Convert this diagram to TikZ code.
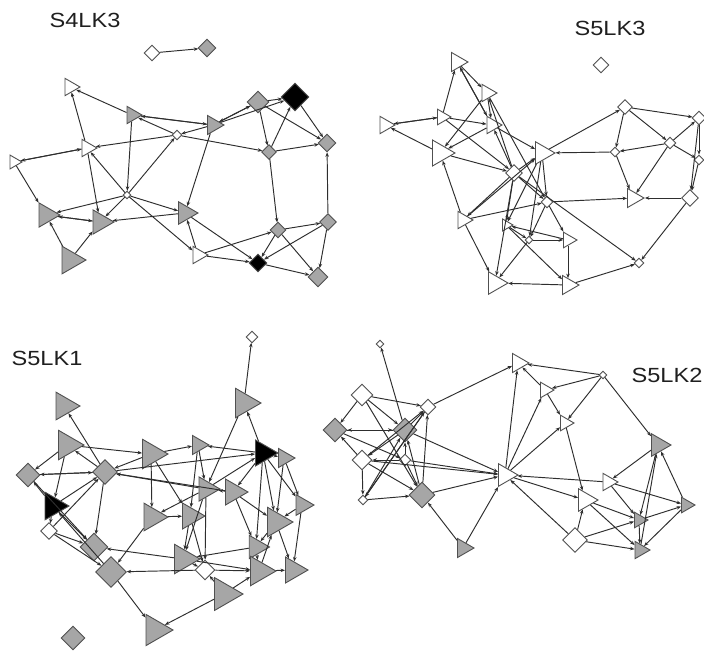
\documentclass[tikz,border=0pt]{standalone}
\usepackage{fontspec}
\setmainfont{Liberation Sans}
\usepackage{graphicx}
\usetikzlibrary{shapes.geometric,arrows.meta}
\definecolor{ngray}{HTML}{A6A6A6}
\definecolor{nline}{HTML}{505050}
\definecolor{eline}{HTML}{2E2E2E}
\tikzset{
  tri/.style={regular polygon, regular polygon sides=3, shape border rotate=-90, draw=nline, line width=0.9pt, inner sep=0pt, minimum size=#1},
  dia/.style={diamond, draw=nline, line width=0.9pt, inner sep=0pt, minimum size=#1},
  gt/.style={tri=#1, fill=ngray},
  wt/.style={tri=#1, fill=white},
  bt/.style={tri=#1, fill=black},
  gd/.style={dia=#1, fill=ngray},
  wd/.style={dia=#1, fill=white},
  bd/.style={dia=#1, fill=black},
  edg/.style={draw=eline, line width=0.95pt, -{Stealth[length=4.5pt,width=3.5pt]}},
  lbl/.style={font=\fontsize{20.5}{20.5}\selectfont, text=black!88, inner sep=0pt}
}
\begin{document}
\begin{tikzpicture}[x=1pt,y=-1pt]
\useasboundingbox[fill=white] (0,0) rectangle (704,651);
% ---------------- Panel S4LK3 ----------------
\node[lbl] (L1) at (85,20) {\scalebox{1.15}[1]{S4LK3}};
\node[wd=16] (aX) at (152,53) {};
\node[gd=18] (aY) at (207,48) {};
\node[wt=20] (aA) at (70,87) {};
\node[gt=20] (aB) at (132,115) {};
\node[gt=22] (aC) at (213,125) {};
\node[gd=22] (aD) at (258,102) {};
\node[bd=28] (aE) at (295,97) {};
\node[wd=10] (aF) at (177,135) {};
\node[wt=20] (aG) at (87,148) {};
\node[wt=16] (aH) at (14,162) {};
\node[gd=15] (aI) at (269,152) {};
\node[gd=18] (aJ) at (327,143) {};
\node[wd=8] (aK) at (127,195) {};
\node[gt=28] (aL) at (46,215) {};
\node[gt=28] (aM) at (100,222) {};
\node[gt=26] (aN) at (185,213) {};
\node[gt=32] (aO) at (70,260) {};
\node[wt=20] (aP) at (198,255) {};
\node[bd=18] (aQ) at (258,263) {};
\node[gd=16] (aR) at (278,230) {};
\node[gd=17] (aS) at (328,222) {};
\node[gd=20] (aT) at (318,277) {};
\foreach \s/\t in {aX/aY, aG/aA, aB/aA, aB/aC, aC/aB, aF/aB, aB/aK, aC/aD, aD/aC, aC/aE, aD/aE,
  aF/aG, aK/aF, aF/aI, aC/aF, aG/aH, aH/aG, aK/aG, aG/aM, aH/aL, aL/aM, aM/aL, aK/aL, aO/aL, aO/aM,
  aK/aM, aN/aM, aK/aN, aK/aP, aC/aN, aN/aQ, aP/aN, aP/aR, aP/aQ, aD/aI, aI/aE, aD/aJ, aE/aJ, aI/aJ,
  aI/aR, aS/aJ, aR/aS, aR/aQ, aR/aT, aS/aQ, aS/aT, aQ/aT}
  \draw[edg] (\s) -- (\t);
% ---------------- Panel S5LK3 ----------------
\node[lbl] (L2) at (610,28) {\scalebox{1.15}[1]{S5LK3}};
\node[wd=16] (bZ) at (601,65) {};
\node[wt=22] (ba) at (457,62) {};
\node[wt=20] (bb) at (487,93) {};
\node[wt=20] (bc) at (385,125) {};
\node[wt=18] (bd) at (442,117) {};
\node[wt=20] (be) at (492,125) {};
\node[wt=30] (bf) at (440,153) {};
\node[wd=17] (bg) at (514,173) {};
\node[wt=26] (bh) at (542,153) {};
\node[wd=12] (bi) at (547,202) {};
\node[wd=15] (bj) at (625,107) {};
\node[wd=14] (bk) at (699,118) {};
\node[wd=12] (bl) at (670,143) {};
\node[wd=10] (bm) at (615,152) {};
\node[wd=10] (bn) at (699,160) {};
\node[wt=22] (bo) at (633,198) {};
\node[wd=17] (bp) at (690,198) {};
\node[wt=20] (bq) at (463,220) {};
\node[wt=14] (br) at (506,225) {};
\node[wd=8] (bs) at (529,240) {};
\node[wt=18] (bt) at (568,240) {};
\node[wd=10] (bu) at (639,263) {};
\node[wt=26] (bv) at (495,283) {};
\node[wt=22] (bw) at (568,285) {};
\foreach \s/\t in {bd/ba, ba/be, be/ba, ba/bb, bd/bc, bc/bd, bf/bc, bd/be, bd/bg, bb/be, bb/bf, bg/bb,
  be/bf, bg/be, be/bh, bf/bg, bq/bf, bg/bh, bg/bi, bg/bq, bg/br, bg/bv, bg/bu, bh/bj, bh/bi, bm/bh,
  bj/bk, bj/bm, bj/bl, bl/bm, bl/bo, bl/bk, bl/bn, bk/bp, bm/bo, bp/bo, bi/bo, bp/bu, bi/bs, bq/bv,
  bq/bi, br/bs, bt/br, bs/bt, bt/bw, bw/bv, bw/bu, br/bw, bs/bv, bn/bp, bk/bn, bi/bt,
  bh/br, bh/bs, bb/bi, bq/bh}
  \draw[edg] (\s) -- (\t);
% ---------------- Panel S5LK1 ----------------
\node[lbl] (L3) at (47,358) {\scalebox{1.15}[1]{S5LK1}};
\node[wd=12] (c1) at (252,337) {};
\node[gt=32] (c2) at (64,406) {};
\node[gt=34] (c3) at (244,403) {};
\node[gt=34] (c4) at (67,445) {};
\node[gd=24] (c5) at (28,475) {};
\node[gd=25] (c6) at (105,472) {};
\node[gt=34] (c7) at (151,454) {};
\node[gt=22] (c8) at (198,445) {};
\node[gt=22] (c10) at (284,458) {};
\node[bt=30] (c9) at (263,453) {};
\node[bt=32] (c11) at (53,506) {};
\node[wd=17] (c12) at (49,531) {};
\node[gt=28] (c13) at (206,489) {};
\node[gt=30] (c14) at (233,492) {};
\node[gt=24] (c15) at (302,505) {};
\node[gt=32] (c16) at (152,517) {};
\node[gt=30] (c17) at (190,516) {};
\node[gt=34] (c18) at (276,522) {};
\node[gd=28] (c19) at (94,547) {};
\node[gd=31] (c20) at (111,572) {};
\node[gt=34] (c21) at (183,559) {};
\node[wd=20] (c22) at (205,570) {};
\node[gt=27] (c23) at (256,547) {};
\node[gt=34] (c24) at (259,571) {};
\node[gt=30] (c25) at (293,570) {};
\node[gt=38] (c26) at (224,594) {};
\node[gt=36] (c27) at (155,630) {};
\node[gd=24] (c28) at (73,638) {};
\foreach \s/\t in {c3/c1, c6/c2, c4/c5, c6/c4, c4/c11, c4/c7, c5/c6, c6/c5, c11/c5, c5/c19,
  c7/c6, c11/c6, c12/c6, c6/c19, c14/c6, c13/c6, c11/c12, c11/c19, c20/c11, c12/c19, c12/c20,
  c7/c16, c7/c8, c7/c17, c8/c13, c8/c17, c9/c8, c9/c3, c13/c9, c9/c14, c9/c18, c9/c23, c9/c15,
  c9/c10, c3/c13, c10/c15, c10/c18, c14/c13, c13/c16, c13/c21, c13/c22, c14/c18, c14/c23,
  c15/c25, c15/c18, c16/c17, c16/c20, c17/c21, c17/c22, c18/c23, c18/c25, c24/c18, c21/c19,
  c22/c20, c20/c27, c21/c22, c23/c21, c21/c24, c22/c24, c26/c22, c23/c24, c24/c25, c26/c27,
  c26/c24, c6/c9}
  \draw[edg] (\s) -- (\t);
% ---------------- Panel S5LK2 ----------------
\node[lbl] (L4) at (667,375) {\scalebox{1.15}[1]{S5LK2}};
\node[wd=8] (dA) at (380,344) {};
\node[wt=22] (dB) at (518,363) {};
\node[wd=8] (dC) at (603,375) {};
\node[wd=22] (dD) at (362,395) {};
\node[wd=16] (dE) at (428,407) {};
\node[gd=24] (dF) at (335,430) {};
\node[gd=24] (dG) at (405,430) {};
\node[wt=18] (dH) at (545,390) {};
\node[wt=18] (dI) at (565,423) {};
\node[wd=20] (dJ) at (362,460) {};
\node[wd=12] (dK) at (405,460) {};
\node[wd=10] (dL) at (363,500) {};
\node[gd=26] (dM) at (422,495) {};
\node[wt=26] (dN) at (505,475) {};
\node[gt=26] (dO) at (658,445) {};
\node[wt=20] (dP) at (608,482) {};
\node[wt=26] (dQ) at (585,500) {};
\node[gt=18] (dR) at (686,505) {};
\node[gt=18] (dS) at (639,520) {};
\node[wd=25] (dT) at (575,540) {};
\node[gt=22] (dU) at (463,548) {};
\node[gt=20] (dV) at (640,550) {};
\foreach \s/\t in {dG/dA, dD/dF, dD/dE, dD/dG, dE/dB, dG/dE, dM/dE, dE/dL, dJ/dE, dF/dG, dG/dF,
  dJ/dF, dF/dK, dL/dG, dK/dG, dG/dJ, dM/dG, dG/dN, dJ/dL, dJ/dM, dK/dJ, dK/dM, dK/dN, dL/dM, dM/dN,
  dU/dM, dU/dN, dN/dB, dN/dH, dN/dI, dP/dN, dN/dQ, dT/dN, dC/dB, dH/dB, dC/dI, dC/dH, dC/dO, dH/dI,
  dI/dQ, dO/dP, dO/dS, dR/dO, dV/dO, dP/dS, dP/dR, dT/dQ, dQ/dS, dQ/dV, dS/dV, dS/dR, dT/dV, dT/dS,
  dR/dV, dD/dM, dJ/dN, dL/dE}
  \draw[edg] (\s) -- (\t);
\end{tikzpicture}
\end{document}
